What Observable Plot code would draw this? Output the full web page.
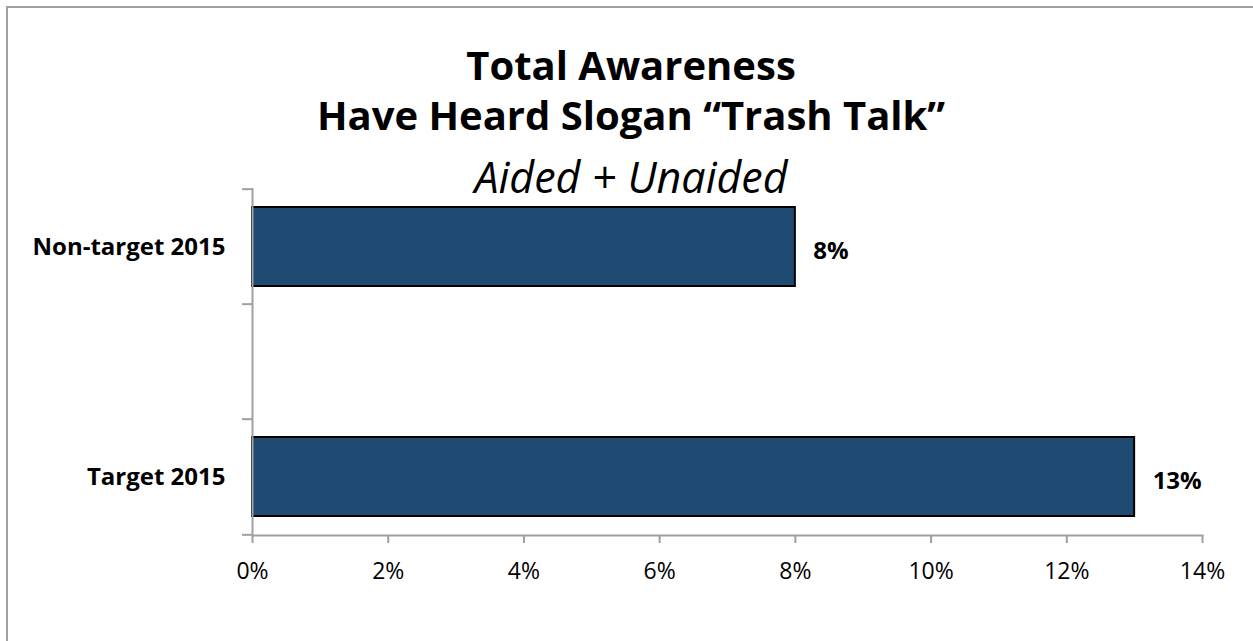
<!DOCTYPE html>
<html>
<head>
<meta charset="utf-8">
<script src="https://cdn.jsdelivr.net/npm/d3@7"></script>
<script src="https://cdn.jsdelivr.net/npm/@observablehq/plot@0.6"></script>
<style>
  html, body { margin: 0; padding: 0; background: #fff; }
  #wrap { position: relative; width: 1253px; height: 641px; overflow: hidden; font-family: "Open Sans", sans-serif; }
  #border { position: absolute; left: 6px; top: 6px; width: 1260px; height: 650px; border: 2px solid #a0a0a0; box-sizing: border-box; }
  .t { position: absolute; left: 0; width: 1262px; text-align: center; color: #000; white-space: nowrap; line-height: 50px; }
  #t1, #t2 { font-weight: 700; font-size: 40px; }
  #t1 { top: 39.5px; }
  #t2 { top: 89.5px; }
  #t3 { font-style: italic; font-size: 43px; top: 151.5px; }
  #chart { position: absolute; left: 0; top: 0; }
</style>
</head>
<body>
<div id="wrap">
  <div id="border"></div>
  <div id="chart"></div>
  <div class="t" id="t1">Total Awareness</div>
  <div class="t" id="t2">Have Heard Slogan “Trash Talk”</div>
  <div class="t" id="t3">Aided + Unaided</div>
</div>
<script>
const categories = ["Non-target 2015", "Target 2015"];
const values = [0.08, 0.13];
const valueLabels = ["8%", "13%"];
const xTicks = [0, 0.02, 0.04, 0.06, 0.08, 0.10, 0.12, 0.14];
const spacer = " "; // empty middle category slot in the original chart
const yDomain = [categories[0], spacer, categories[1]];

const data = categories.map((c, i) => ({category: c, value: values[i], label: valueLabels[i]}));

const W = 1253, H = 641;
const mL = 252, mR = 51, mT = 188, mB = 106;
const half = (H - mT - mB) / yDomain.length / 2;

const chart = Plot.plot({
  width: W, height: H,
  marginLeft: mL, marginRight: mR, marginTop: mT, marginBottom: mB,
  style: {fontFamily: "'Open Sans', sans-serif", color: "#000", background: "transparent", overflow: "visible"},
  x: {domain: [0, 0.14], axis: null, label: null},
  y: {domain: yDomain, padding: 0, axis: null, label: null},
  marks: [
    Plot.barX(data, {x: "value", y: "category", fill: "#1f4a72", stroke: "#000", strokeWidth: 2, insetTop: 18, insetBottom: 18}),
    Plot.ruleX([0], {stroke: "#a0a0a0", strokeWidth: 2}),
    Plot.frame({anchor: "bottom", stroke: "#a0a0a0", strokeWidth: 2}),
    Plot.axisX({ticks: xTicks, tickSize: 8, tickPadding: 19, label: null, tickFormat: d => Math.round(d * 100) + "%", stroke: "#a0a0a0", strokeWidth: 2, fill: "#000", fontSize: 23}),
    Plot.axisY({ticks: yDomain, tickSize: 10, label: null, tickFormat: () => "", stroke: "#a0a0a0", strokeWidth: 2, dy: -half}),
    Plot.axisY({ticks: [categories[1]], tickSize: 10, label: null, tickFormat: () => "", stroke: "#a0a0a0", strokeWidth: 2, dy: half}),
    Plot.axisY({ticks: categories, tickSize: 0, tickPadding: 27, label: null, fontSize: 24, fontWeight: "bold", fill: "#000"}),
    Plot.text(data, {x: "value", y: "category", text: "label", textAnchor: "start", dx: 18, dy: 4, fontSize: 24, fontWeight: "bold", fill: "#000"})
  ]
});
document.getElementById("chart").appendChild(chart);
</script>
</body>
</html>
